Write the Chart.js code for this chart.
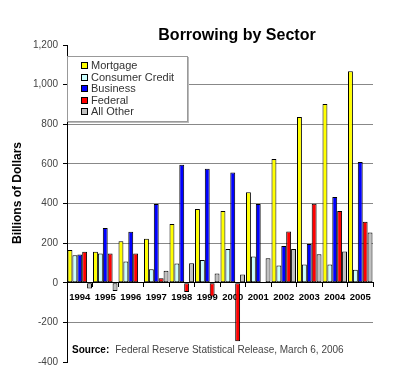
<!DOCTYPE html>
<html>
<head>
<meta charset="utf-8">
<script src="https://cdn.jsdelivr.net/npm/chart.js@4.4.1/dist/chart.umd.min.js"></script>
<style>
    body { margin: 0; background: #fff; }
    .wrap { position: relative; width: 400px; height: 385px; font-family: Arial, "Liberation Sans", sans-serif; }
    .title { position: absolute; left: 137px; top: 27px; width: 200px; text-align: center; font-size: 16px; line-height: 16px; font-weight: bold; color: #000; }
    .ytitle { position: absolute; left: -83px; top: 186px; width: 200px; text-align: center; font-size: 12px; line-height: 14px; font-weight: bold; color: #000; transform: rotate(-90deg); }
    .legend { position: absolute; left: 67px; top: 56px; width: 121px; height: 66px; background: #fff; border: 1px solid #999; box-shadow: 1px 1px 0 #bbb; padding: 3px 0 0 13px; box-sizing: border-box; }
    .legend div { height: 11.6px; line-height: 11.6px; font-size: 11px; color: #333; white-space: nowrap; }
    .legend span { display: inline-block; width: 5px; height: 5px; border: 1px solid #000; margin-right: 3px; vertical-align: 0px; }
    .source { position: absolute; left: 72px; top: 344px; font-size: 10px; line-height: 12px; color: #444; white-space: nowrap; }
    .source b { color: #000; margin-right: 6px; }
</style>
</head>
<body>
<div class="wrap">
    <canvas id="borrowing-chart" width="400" height="385"></canvas>
    <div class="title">Borrowing by Sector</div>
    <div class="ytitle">Billions of Dollars</div>
    <div class="legend" id="legend"></div>
    <div class="source"><b>Source:</b>Federal Reserve Statistical Release, March 6, 2006</div>
</div>
<script>
// Borrowing by sector data (billions of dollars)

let years = ['1994', '1995', '1996', '1997', '1998', '1999', '2000', '2001', '2002', '2003', '2004', '2005'];
let mortgageData = [165, 156, 209, 222, 296, 372, 362, 457, 625, 836, 902, 1068];
let consumerData = [139, 148, 107, 68, 97, 115, 170, 133, 87, 92, 92, 65];
let businessData = [143, 276, 257, 397, 595, 575, 556, 397, 185, 195, 433, 609];
let federalData = [156, 148, 148, 23, -47, -70, -295, -3, 259, 399, 362, 308];
let otherData = [-29, -42, 3, 60, 99, 47, 42, 124, 170, 144, 158, 254];

let seriesNames = ['Mortgage', 'Consumer Credit', 'Business', 'Federal', 'All Other'];
let seriesColors = ['#ffff00', '#ccffff', '#0000ff', '#ff0000', '#c0c0c0'];
let seriesData = [mortgageData, consumerData, businessData, federalData, otherData];

let datasets = seriesNames.map(function (name, i) {
    return {
        label: name,
        data: seriesData[i],
        backgroundColor: seriesColors[i],
        borderColor: '#000',
        borderWidth: 1,
        borderSkipped: false,
        categoryPercentage: 0.96,
        barPercentage: 1
    };
});

const ctx = document.getElementById('borrowing-chart').getContext('2d');
const borrowingChart = new Chart(ctx, {
    type: 'bar',
    data: {
        labels: years,
        datasets: datasets
    },
    options: {
        responsive: false,
        animation: false,
        layout: {
            padding: { top: 45, right: 27, bottom: 23, left: 0 }
        },
        scales: {
            x: {
                position: { y: 0 },
                grid: {
                    drawOnChartArea: false,
                    tickLength: 4,
                    tickColor: '#000'
                },
                border: { color: '#000' },
                ticks: {
                    color: '#000',
                    padding: 5,
                    maxRotation: 0,
                    font: { family: 'Arial, "Liberation Sans"', size: 9.5, weight: 'bold' }
                }
            },
            y: {
                min: -400,
                max: 1200,
                ticks: {
                    stepSize: 200,
                    color: '#444',
                    padding: 5,
                    font: { family: 'Arial, "Liberation Sans"', size: 10 }
                },
                grid: {
                    color: function (c) {
                        if (c.tick && (c.tick.value === 1200 || c.tick.value === -400)) return 'rgba(0,0,0,0)';
                        return '#888';
                    },
                    tickLength: 4,
                    tickColor: '#000'
                },
                border: { color: '#000' },
                afterFit: function (scale) {
                    scale.width = 67;
                }
            }
        },
        plugins: {
            legend: { display: false },
            title: { display: false },
            tooltip: { enabled: false }
        }
    }
});

// html legend built from the datasets
let legendBox = document.getElementById('legend');
borrowingChart.data.datasets.forEach(function (ds) {
    let row = document.createElement('div');
    let sw = document.createElement('span');
    sw.style.background = ds.backgroundColor;
    row.appendChild(sw);
    row.appendChild(document.createTextNode(ds.label));
    legendBox.appendChild(row);
});
</script>
</body>
</html>
